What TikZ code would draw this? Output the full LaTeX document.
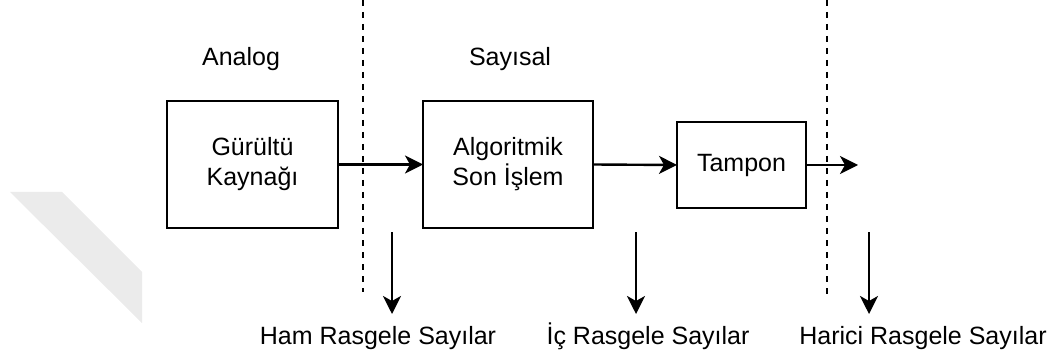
\documentclass[tikz,border=0pt]{standalone}
\usepackage{fontspec}
\setmainfont{Liberation Sans}
\usetikzlibrary{arrows.meta}

\begin{document}
\begin{tikzpicture}[x=1pt, y=-1pt,
  every node/.style={inner sep=0pt, outer sep=0pt},
  txt/.style={font=\fontsize{25}{30}\selectfont, align=center},
  block/.style={draw, line width=2.4pt, txt},
  flow/.style={line width=2.4pt, -{Stealth[length=18pt, width=18pt, inset=5pt]}},
  border/.style={line width=2.2pt, dash pattern=on 6pt off 6pt},
]
\useasboundingbox (0,0) rectangle (1056,355);

% faint diagonal band at the left edge
\fill[black!8] (10,192) -- (62,192) -- (142,272) -- (142,323) -- cycle;

% domain headings
\node[txt, anchor=base] (analog) at (241,66) {Analog};
\node[txt, anchor=base] (sayisal) at (510,66) {Sayısal};

% processing chain
\node[block, minimum width=171pt, minimum height=127pt] (noise) at (252.5,164.5) {Gürültü\\Kaynağı};
\node[block, minimum width=170pt, minimum height=127pt] (post) at (508,164.5) {Algoritmik\\Son İşlem};
\node[block, minimum width=129pt, minimum height=86pt] (buffer) at (741.5,165) {Tampon};
\coordinate (out) at (858,165);

\draw[flow] (noise.east) -- (post.west);
\draw[flow] (post.east) -- (buffer.west);
\draw[flow] (buffer.east) -- (out);

% boundaries between the stages
\coordinate (b1top) at (363,0);
\coordinate (b1bot) at (363,292);
\coordinate (b2top) at (827,0);
\coordinate (b2bot) at (827,297);
\draw[border] (b1top) -- (b1bot);
\draw[border] (b2top) -- (b2bot);

% outputs taken at each stage
\coordinate (t1) at (392,232);
\coordinate (h1) at (392,314);
\coordinate (t2) at (636,232);
\coordinate (h2) at (636,314);
\coordinate (t3) at (869,232);
\coordinate (h3) at (869,314);
\draw[flow] (t1) -- (h1);
\draw[flow] (t2) -- (h2);
\draw[flow] (t3) -- (h3);

\node[txt, anchor=base] (raw) at (378,344) {Ham Rasgele Sayılar};
\node[txt, anchor=base] (internal) at (648,344) {İç Rasgele Sayılar};
\node[txt, anchor=base] (external) at (923,344) {Harici Rasgele Sayılar};
\end{tikzpicture}
\end{document}
